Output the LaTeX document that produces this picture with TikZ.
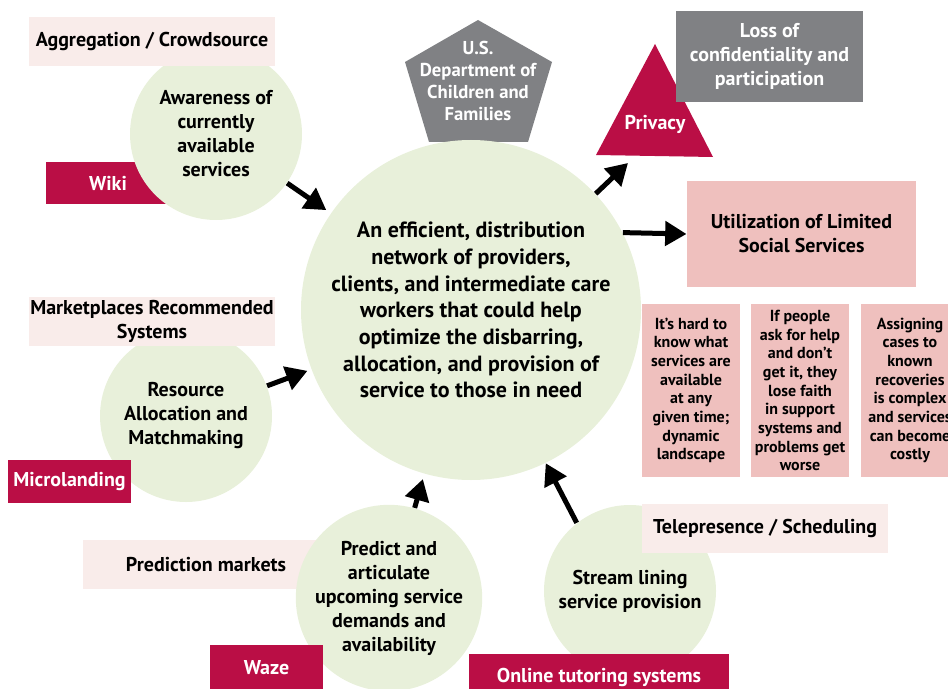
\documentclass[tikz,border=0pt]{standalone}
\usepackage{fontspec}
\setmainfont{PT Sans}
\usepackage{tikz}
\usetikzlibrary{positioning,arrows.meta}
\usepackage{xcolor}
\definecolor{crimson}{RGB}{186,14,69}
\definecolor{slate}{RGB}{128,129,132}
\definecolor{rosebox}{RGB}{239,192,190}
\definecolor{blush}{RGB}{249,236,234}
\definecolor{sage}{RGB}{232,240,218}
\tikzset{every picture/.style={line width=0.75pt}}
\tikzset{
  hubcircle/.style={circle,fill=sage,minimum size=255pt,inner sep=0pt,align=center,font=\bfseries\fontsize{16.5}{20}\selectfont},
  ideacircle/.style={circle,fill=sage,minimum size=129pt,inner sep=0pt,align=center,font=\bfseries\fontsize{15}{18}\selectfont},
  tagbox/.style={fill=blush,minimum width=184.5pt,minimum height=36.75pt,inner sep=0pt,align=center,font=\bfseries\fontsize{15}{18}\selectfont},
  toolbox/.style={fill=crimson,text=white,inner sep=0pt,align=center,font=\bfseries\fontsize{15}{18}\selectfont},
  issuebox/.style={fill=rosebox,minimum width=73.5pt,minimum height=129.75pt,inner sep=0pt,align=center,font=\bfseries\fontsize{12}{14}\selectfont},
  whitetext/.style={text=white,inner sep=0pt,align=center},
  fatarrow/.style={line width=3.75pt,-{Triangle[length=16pt,width=18pt]}}
}

\begin{document}
\begin{tikzpicture}[x=0.75pt,y=0.75pt,yscale=-1,xscale=1]
\useasboundingbox (0,0) rectangle (948,688);

% boxes lying behind the circles
\node[toolbox,minimum width=93pt,minimum height=31.5pt] (wiki) at (108,183) {Wiki};
\node[tagbox] (prediction) at (206,564.5) {Prediction markets};

% pentagon and triangle
\fill[slate] (478,20) -- (552,62) -- (528,142) -- (429,142) -- (405,62) -- cycle ;
\node[whitetext,font=\bfseries\fontsize{14}{16.5}\selectfont] (dept) at (478,81) {U.S.\\Department of\\Children and\\Families};
\fill[crimson] (655,44) -- (713,157) -- (596,155) -- cycle ;
\node[whitetext,font=\bfseries\fontsize{15}{18}\selectfont] (privacy) at (655,124) {Privacy};
\coordinate (privbase) at (628,163);

% circles
\node[hubcircle] (hub) at (471,310) {An efficient, distribution\\network of providers,\\clients, and intermediate care\\workers that could help\\optimize the disbarring,\\allocation, and provision of\\service to those in need};
\node[ideacircle] (aware) at (216,134) {Awareness of\\currently\\available\\services};
\node[ideacircle] (resource) at (186,416) {Resource\\Allocation and\\Matchmaking};
\node[ideacircle] (predict) at (389,598) {Predict and\\articulate\\upcoming service\\demands and\\availability};
\node[ideacircle] (stream) at (630,591) {Stream lining\\service provision};

% boxes lying over the circles
\node[tagbox] (aggregation) at (152,41.5) {Aggregation / Crowdsource};
\node[tagbox] (market) at (152,321.5) {Marketplaces Recommended\\Systems};
\node[tagbox] (telepresence) at (765,528.5) {Telepresence / Scheduling};
\node[toolbox,minimum width=92.25pt,minimum height=32.25pt] (microlanding) at (69.5,481.5) {Microlanding};
\node[toolbox,minimum width=84.75pt,minimum height=33.75pt] (waze) at (266.5,667.5) {Waze};
\node[toolbox,minimum width=195pt,minimum height=34.5pt] (tutoring) at (599,677) {Online tutoring systems};
\node[fill=slate,text=white,minimum width=140.25pt,minimum height=68.25pt,inner sep=0pt,align=center,font=\bfseries\fontsize{15}{18}\selectfont] (loss) at (769.5,56.5) {Loss of\\confidentiality and\\participation};
\node[fill=rosebox,minimum width=171.75pt,minimum height=79.5pt,inner sep=0pt,align=center,font=\bfseries\fontsize{15}{18}\selectfont] (util) at (801.5,234) {Utilization of Limited\\Social Services};
\node[issuebox] (hard) at (691,390.5) {It’s hard to\\know what\\services are\\available\\at any\\given time;\\dynamic\\landscape};
\node[issuebox] (people) at (800,390.5) {If people\\ask for help\\and don’t\\get it, they\\lose faith\\in support\\systems and\\problems get\\worse};
\node[issuebox] (assign) at (910,390.5) {Assigning\\cases to\\known\\recoveries\\is complex\\and services\\can become\\costly};

% arrows
\draw[fatarrow,shorten >=4pt] (aware) -- (hub);
\draw[fatarrow,shorten >=3pt] (resource) -- (hub);
\draw[fatarrow,shorten >=4pt] (predict) -- (hub);
\draw[fatarrow] (stream.128) -- (hub.-64);
\draw[fatarrow] (hub.43) -- (privbase);
\draw[fatarrow] (hub.27) -- (util.west);

\end{tikzpicture}
\end{document}
